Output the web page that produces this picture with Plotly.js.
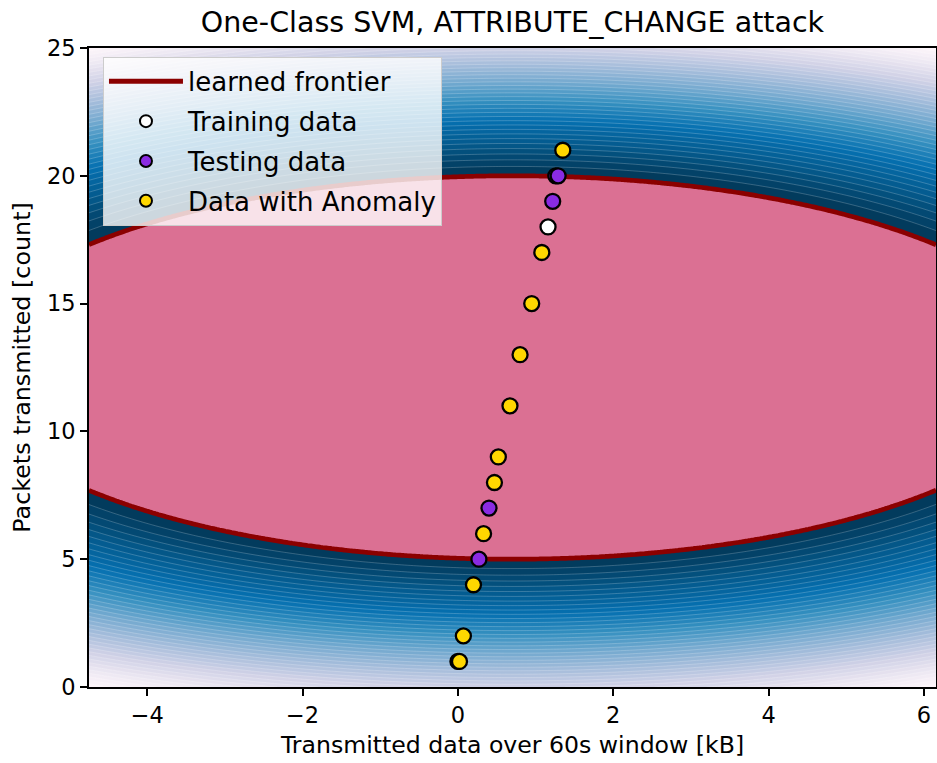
<!DOCTYPE html>
<html>
<head>
<meta charset="utf-8">
<script src="https://cdn.plot.ly/plotly-3.0.1.min.js"></script>
<style>
  html, body { margin: 0; padding: 0; background: #ffffff; }
  #chart { width: 937px; height: 763px; }
</style>
</head>
<body>
<div id="chart"></div>
<script>
// ---- Data ----
const trainX = [1.16];
const trainY = [18];

const testX = [1.26, 1.29, 1.22, 0.40, 0.27];
const testY = [20, 20, 19, 7, 5];

const anomalyX = [1.35, 1.08, 0.95, 0.80, 0.67, 0.52, 0.47, 0.33, 0.20, 0.07, 0.00, 0.02];
const anomalyY = [21, 17, 15, 13, 11, 9, 8, 6, 4, 2, 1, 1];

// learned frontier (decision function = 0) read as an ellipse
const frontierCenterX = 0.7;
const frontierCenterY = 12.5;
const frontierHalfWidth = 7.1;
const frontierHalfHeight = 7.5;
const falloffPower = 1.3;   // how fast the decision function decays outside the frontier

const xRange = [-4.75, 6.155];
const yRange = [0, 25];
const xTicks = [-4, -2, 0, 2, 4, 6];
const yTicks = [0, 5, 10, 15, 20, 25];

const PuBu = [
  [0.0, '#fff7fb'], [0.125, '#ece7f2'], [0.25, '#d0d1e6'], [0.375, '#a6bddb'],
  [0.5, '#74a9cf'], [0.625, '#3690c0'], [0.75, '#0570b0'], [0.875, '#045a8d'], [1.0, '#023858']
];

// ---- decision-function grid ----
const N = 280;
const gx = [], gy = [];
for (let i = 0; i < N; i++) {
  gx.push(xRange[0] + (xRange[1] - xRange[0]) * i / (N - 1));
  gy.push(yRange[0] + (yRange[1] - yRange[0]) * i / (N - 1));
}
const Z = [];      // shading field
const ZB = [];     // signed distance used for the frontier itself
let zMin = Infinity;
for (let j = 0; j < N; j++) {
  const row = [], rowB = [];
  for (let i = 0; i < N; i++) {
    const dx = (gx[i] - frontierCenterX) / frontierHalfWidth;
    const dy = (gy[j] - frontierCenterY) / frontierHalfHeight;
    const r = Math.sqrt(dx * dx + dy * dy);
    const v = r <= 1 ? 1 - r : -Math.pow(r - 1, falloffPower);
    row.push(v);
    rowB.push(1 - r);
    if (v < zMin) zMin = v;
  }
  Z.push(row);
  ZB.push(rowB);
}
const nLevels = 40;

const font = 'DejaVu Sans, sans-serif';

const traces = [
  {
    type: 'contour', x: gx, y: gy, z: Z,
    zmin: zMin, zmax: 0, zauto: false,
    colorscale: PuBu, showscale: false,
    autocontour: false,
    contours: { start: zMin, end: 0, size: -zMin / nLevels, coloring: 'fill' },
    line: { color: 'rgba(255,255,255,0.35)', width: 0.6, smoothing: 1 },
    hoverinfo: 'skip', showlegend: false
  },
  {
    type: 'contour', x: gx, y: gy, z: ZB,
    contours: { type: 'constraint', operation: '<', value: 0 },
    fillcolor: '#db7093',
    line: { color: '#8b0000', width: 4.7, smoothing: 1 },
    hoverinfo: 'skip', showlegend: false
  },
  {
    type: 'scatter', mode: 'lines', x: [null], y: [null],
    name: 'learned frontier', legendgroup: 'g1',
    line: { color: '#8b0000', width: 4.7 }
  },
  {
    type: 'scatter', mode: 'markers', x: trainX, y: trainY,
    name: 'Training data', legendgroup: 'g2',
    marker: { color: '#ffffff', size: 15, line: { color: '#000000', width: 2.3 } }
  },
  {
    type: 'scatter', mode: 'markers', x: testX, y: testY,
    name: 'Testing data', legendgroup: 'g3',
    marker: { color: '#8a2be2', size: 15, line: { color: '#000000', width: 2.3 } }
  },
  {
    type: 'scatter', mode: 'markers', x: anomalyX, y: anomalyY,
    name: 'Data with Anomaly', legendgroup: 'g4',
    marker: { color: '#ffd700', size: 15, line: { color: '#000000', width: 2.3 } }
  }
];

const axisCommon = {
  showgrid: false, zeroline: false,
  showline: true, mirror: true, linecolor: '#000000', linewidth: 1.9,
  ticks: 'outside', ticklen: 7, tickwidth: 1.9, tickcolor: '#000000',
  tickfont: { family: font, size: 22.5, color: '#000000' }
};

const layout = {
  width: 937, height: 763,
  paper_bgcolor: '#ffffff', plot_bgcolor: '#ffffff',
  margin: { l: 89, r: 1, t: 48, b: 76 },
  title: {
    text: 'One-Class SVM, ATTRIBUTE_CHANGE attack',
    font: { family: font, size: 28.5, color: '#000000' },
    x: 0.5, xref: 'paper', xanchor: 'center',
    y: 1 - 22 / 763, yref: 'container', yanchor: 'middle'
  },
  xaxis: Object.assign({}, axisCommon, {
    range: xRange, tickvals: xTicks,
    title: { text: 'Transmitted data over 60s window [kB]', font: { family: font, size: 23.6, color: '#000000' }, standoff: 10 }
  }),
  yaxis: Object.assign({}, axisCommon, {
    range: yRange, tickvals: yTicks,
    title: { text: 'Packets transmitted [count]', font: { family: font, size: 23.8, color: '#000000' }, standoff: 10 }
  }),
  legend: {
    x: 0.0165, y: 0.986, xanchor: 'left', yanchor: 'top',
    bgcolor: 'rgba(255,255,255,0.8)', bordercolor: '#cccccc', borderwidth: 1,
    font: { family: font, size: 26, color: '#000000' },
    itemsizing: 'constant', itemwidth: 74,
    tracegroupgap: 3
  },
  showlegend: true
};

Plotly.newPlot('chart', traces, layout, { displayModeBar: false, staticPlot: true });
</script>
</body>
</html>
